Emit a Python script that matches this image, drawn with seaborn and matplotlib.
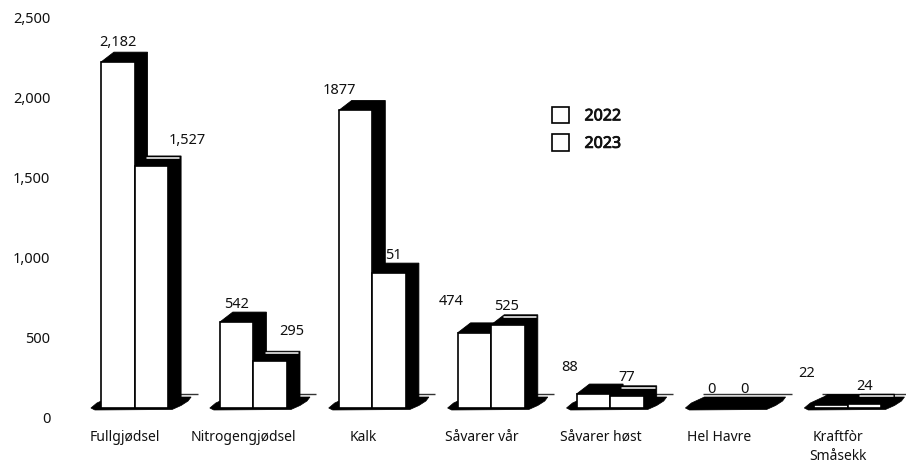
import numpy as np
import pandas as pd
import matplotlib
matplotlib.use("Agg")
import matplotlib.pyplot as plt
import matplotlib.patheffects as pe
from matplotlib.patches import Polygon
from matplotlib.transforms import ScaledTranslation
import seaborn as sns

categories = ["Fullgjødsel", "Nitrogengjødsel", "Kalk", "Såvarer vår", "Såvarer høst", "Hel Havre", "Kraftfòr\nSmåsekk"]
years = ["2022", "2023"]
values_2022 = [2182, 542, 1877, 474, 88, 0, 22]
values_2023 = [1527, 295, 851, 525, 77, 0, 24]
labels_2022 = ["2,182", "542", "1877", "474", "88", "0", "22"]
labels_2023 = ["1,527", "295", "51", "525", "77", "0", "24"]
yticks = [0, 500, 1000, 1500, 2000, 2500]
ytick_labels = ["0", "500", "1,000", "1,500", "2,000", "2,500"]

# Layout (pixels of the 906x469 canvas)
W, H, DPI = 906, 469, 100
PX_PER_CAT, PX_PER_UNIT = 118.9, 0.1585
CAT0_PX, BASE_PX = 134.5, 408
AX_L, AX_R, AX_T, AX_B = 60, 906, 10, 420
DEPTH_X, DEPTH_Y = 13 / PX_PER_CAT, 10 / PX_PER_UNIT
FS_TICK, FS_CAT, FS_LEG = 10.5, 10, 11.5
label_offsets_2022 = [(0, 20), (0, 18), (-16, 20), (-23, 31), (-24, 27), (-1, 19), (-24, 31)]
label_offsets_2023 = [(36, 25), (22, 30), (4, 18), (-1, 18), (0, 18), (-1, 19), (0, 18)]
top_highlight_2023 = [True, True, False, True, True, False, True]

sns.set_style("white")
plt.rcParams["font.family"] = ["Noto Sans", "DejaVu Sans"]
plt.rcParams["text.color"] = "#111111"

df = pd.DataFrame({
    "category": categories * 2,
    "year": [years[0]] * len(categories) + [years[1]] * len(categories),
    "value": values_2022 + values_2023,
})

fig = plt.figure(figsize=(W / DPI, H / DPI), dpi=DPI)
ax = fig.add_axes([AX_L / W, 1 - AX_B / H, (AX_R - AX_L) / W, (AX_B - AX_T) / H])
sns.barplot(data=df, x="category", y="value", hue="year", order=categories, hue_order=years,
            palette=["white", "white"], edgecolor="black", linewidth=1.2, width=0.565, gap=0,
            legend=False, ax=ax, zorder=5)
ax.set_xlim((AX_L - CAT0_PX) / PX_PER_CAT, (AX_R - CAT0_PX) / PX_PER_CAT)
ax.set_ylim((BASE_PX - AX_B) / PX_PER_UNIT, (BASE_PX - AX_T) / PX_PER_UNIT)
ax.set_xlabel("")
ax.set_ylabel("")
ax.set_yticks([])
sx, sy = 1 / PX_PER_CAT, 1 / PX_PER_UNIT

# Back-wall floor line, visible beside each group
positions = np.arange(len(categories))
ax.hlines([14 * sy] * len(categories), positions - 26 * sx, positions + 63 * sx,
          color="#333333", lw=1, zorder=1)

# Floor blobs
c0, c1 = ax.containers
for b0, b1 in zip(c0.patches, c1.patches):
    L, R = b0.get_x(), b1.get_x() + b1.get_width()
    pts = [(L - 10 * sx, 0), (L - 4 * sx, 5 * sy), (L + 9 * sx, 11 * sy), (R + 23 * sx, 11 * sy),
           (R + 20 * sx, 7 * sy), (R + 13 * sx, 2.5 * sy), (R + 4 * sx, -1.5 * sy), (L - 6 * sx, -2 * sy)]
    ax.add_patch(Polygon(pts, closed=True, fc="black", ec="black", lw=0.5, zorder=2))

# Extruded 3D sides and tops
for container, z, flags in ((c0, 3, [False] * len(categories)), (c1, 4, top_highlight_2023)):
    for bar, flag in zip(container.patches, flags):
        x0, w, h = bar.get_x(), bar.get_width(), bar.get_height()
        x1 = x0 + w
        pts = [(x0, h), (x0 + DEPTH_X, h + DEPTH_Y), (x1 + DEPTH_X, h + DEPTH_Y), (x1 + DEPTH_X, DEPTH_Y), (x1, 0), (x1, h)]
        ax.add_patch(Polygon(pts, closed=True, fc="black", ec="black", lw=0.6, zorder=z))
        if flag:
            ax.plot([x0 + DEPTH_X * 0.95, x1 + DEPTH_X * 0.85], [h + DEPTH_Y * 0.78] * 2,
                    color="white", lw=1.1, zorder=z + 0.5)

# Value labels
for container, labels, offsets in ((c0, labels_2022, label_offsets_2022), (c1, labels_2023, label_offsets_2023)):
    for bar, lab, (dx, dy) in zip(container.patches, labels, offsets):
        ax.annotate(lab, xy=(bar.get_x() + bar.get_width() / 2, bar.get_height()), xytext=(dx, dy),
                    textcoords="offset pixels", ha="center", va="center", fontsize=FS_TICK, zorder=8)

# Category labels sit left of the group, as in the 3D projection
ax.set_xticks(positions)
ax.set_xticklabels(categories, fontsize=FS_CAT, linespacing=1.37, va="top")
ax.tick_params(axis="x", length=0, pad=7.5, colors="#111111")
shift = ScaledTranslation(-9.5 / DPI, 0, fig.dpi_scale_trans)
for t in ax.get_xticklabels():
    t.set_transform(t.get_transform() + shift)

# Value axis on the projected front plane
ax2 = ax.twinx()
ax2.set_ylim((417 - AX_B) / 0.16, (417 - AX_T) / 0.16)
ax2.yaxis.tick_left()
ax2.set_yticks(yticks)
ax2.set_yticklabels(ytick_labels, fontsize=FS_TICK)
ax2.tick_params(axis="y", length=0, pad=7, colors="#111111")
ax2.set_ylabel("")
for a in (ax, ax2):
    for s in a.spines.values():
        s.set_visible(False)
    a.patch.set_visible(False)
    a.grid(False)

leg = ax.legend([c0.patches[0], c1.patches[0]], years, loc="upper left",
                bbox_to_anchor=((547 - AX_L) / (AX_R - AX_L), 1 - (102 - AX_T) / (AX_B - AX_T)),
                frameon=False, fontsize=FS_LEG, handlelength=1.05, handleheight=1.2,
                handletextpad=1.0, labelspacing=0.62, borderpad=0.3, borderaxespad=0)
for t in leg.get_texts():
    t.set_path_effects([pe.withStroke(linewidth=0.6, foreground="#111111")])
leg.set_zorder(10)

fig.savefig("out.png", dpi=DPI, facecolor="white")
